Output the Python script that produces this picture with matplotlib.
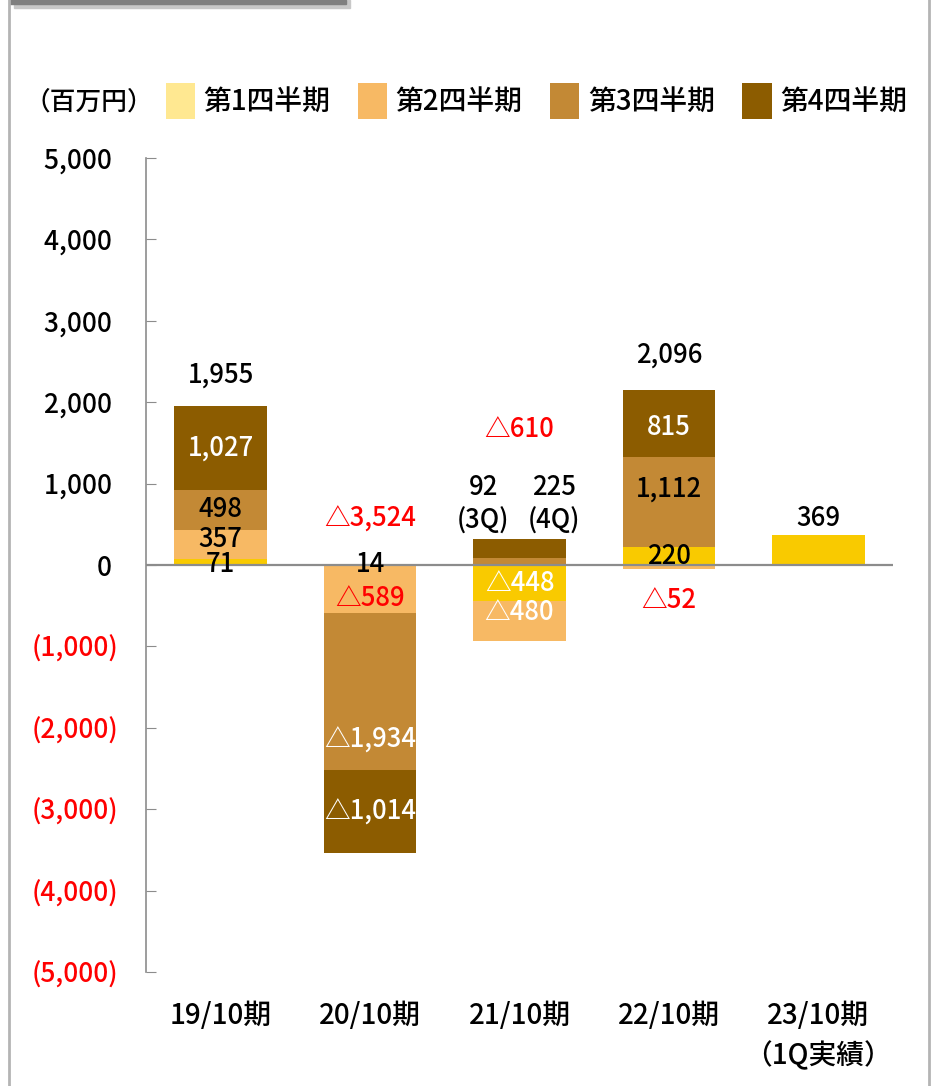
import matplotlib.pyplot as plt
from matplotlib.patches import Patch, Rectangle
from matplotlib.lines import Line2D

plt.rcParams['font.family'] = ['Noto Sans CJK JP', 'DejaVu Sans']
plt.rcParams['font.weight'] = 'medium'

# data (million yen)
periods = ['19/10期', '20/10期', '21/10期', '22/10期', '23/10期\n（1Q実績）']
quarters = ['第1四半期', '第2四半期', '第3四半期', '第4四半期']
q1 = [71, 14, -448, 220, 369]
q2 = [357, -589, -480, -52, 0]
q3 = [498, -1934, 92, 1112, 0]
q4 = [1027, -1014, 225, 815, 0]
totals = [1955, -3524, -610, 2096, 369]
yticks = [5000, 4000, 3000, 2000, 1000, 0, -1000, -2000, -3000, -4000, -5000]

legend_colors = ['#FFE891', '#F7B964', '#C38935', '#8C5C00']
bar_colors = ['#F9CA00', '#F7B964', '#C38935', '#8C5C00']
RED = '#FF0000'
LABEL_FS = 18.5


def fmt(v):
    return ('△' if v < 0 else '') + f'{abs(v):,}'


fig = plt.figure(figsize=(9.33, 10.86), dpi=100)
W, H = 933, 1086
ax = fig.add_axes([146 / W, 1 - 972 / H, (893 - 146) / W, (972 - 158) / H])

x = list(range(len(periods)))
series = [q1, q2, q3, q4]
pos_base = [0] * len(x)
neg_base = [0] * len(x)
centers = {}
for qi, vals in enumerate(series):
    bottoms = []
    for i, v in enumerate(vals):
        if v >= 0:
            bottoms.append(pos_base[i])
            pos_base[i] += v
        else:
            bottoms.append(neg_base[i])
            neg_base[i] += v
    ax.bar(x, vals, bottom=bottoms, width=0.62, color=bar_colors[qi], edgecolor='none', zorder=2)
    for i, v in enumerate(vals):
        centers[(i, qi)] = bottoms[i] + v / 2

ax.axhline(0, color='#8c8c8c', lw=1.6, zorder=3)

# segment labels: (period, quarter) -> colour, vertical nudge in points
seg_labels = {
    (0, 0): ('black', -2), (0, 1): ('black', 4), (0, 2): ('black', 0), (0, 3): ('white', 0),
    (1, 0): ('black', 0), (1, 1): (RED, -7), (1, 2): ('white', -35), (1, 3): ('white', 0),
    (2, 0): ('white', 0), (2, 1): ('white', 6),
    (3, 0): ('black', 0), (3, 1): (RED, -24), (3, 2): ('black', 9), (3, 3): ('white', -3),
}
for (i, qi), (col, dy) in seg_labels.items():
    ax.annotate(fmt(series[qi][i]), (x[i], centers[(i, qi)]), xytext=(0, dy),
                textcoords='offset points', ha='center', va='center',
                color=col, fontsize=LABEL_FS, zorder=5)

# 21/10: Q3 / Q4 shown above the bar
for qi, dx, tag in [(2, -26, '(3Q)'), (3, 25, '(4Q)')]:
    ax.annotate(f'{fmt(series[qi][2])}\n{tag}', (x[2], pos_base[2]), xytext=(dx, 3),
                textcoords='offset points', ha='center', va='bottom',
                fontsize=LABEL_FS, linespacing=1.3, zorder=5)

# totals above the bars
tot_offsets = [22, 32, 79, 25, 12]
for i, t in enumerate(totals):
    ax.annotate(fmt(t), (x[i], pos_base[i]), xytext=(0, tot_offsets[i]),
                textcoords='offset points', ha='center', va='center',
                color=RED if t < 0 else 'black', fontsize=LABEL_FS, zorder=5)

ax.set_xlim(-0.5, 4.5)
ax.set_ylim(-5000, 5000)
ax.set_xticks(x)
ax.set_xticklabels(periods, fontsize=20, linespacing=1.45)
ax.tick_params(axis='x', length=0, pad=21)
ax.set_yticks(yticks)
ax.set_yticklabels([f'{v:,} ' if v >= 0 else f'({abs(v):,})' for v in yticks], fontsize=19)
for lab, v in zip(ax.get_yticklabels(), yticks):
    lab.set_color(RED if v < 0 else 'black')
ax.tick_params(axis='y', direction='in', length=7, color='#8c8c8c', pad=20)
for s in ['top', 'right', 'bottom']:
    ax.spines[s].set_visible(False)
ax.spines['left'].set_color('#8c8c8c')
ax.spines['left'].set_linewidth(1.2)

# legend
handles = [Patch(facecolor=c, edgecolor='none') for c in legend_colors]
fig.legend(handles, quarters, loc='center left', bbox_to_anchor=(166 / W, 1 - 101 / H),
           ncol=4, frameon=False, fontsize=20, handlelength=1.05, handleheight=1.6,
           handletextpad=0.3, columnspacing=1.0, borderpad=0, borderaxespad=0)
fig.text(24 / W, 1 - 102 / H, '（百万円）', fontsize=18.5, ha='left', va='center')

# outer frame decorations
fig.add_artist(Line2D([9 / W, 9 / W], [0, 1], color='#b4b4b4', lw=2, transform=fig.transFigure))
fig.add_artist(Line2D([929 / W, 929 / W], [0, 1], color='#b4b4b4', lw=2, transform=fig.transFigure))
fig.add_artist(Rectangle((14 / W, 1 - 8 / H), 336 / W, 8 / H, color='#c8c8c8', transform=fig.transFigure))
fig.add_artist(Rectangle((10 / W, 1 - 4 / H), 336 / W, 4 / H, color='#808080', transform=fig.transFigure))

fig.savefig('out.png', dpi=100)
